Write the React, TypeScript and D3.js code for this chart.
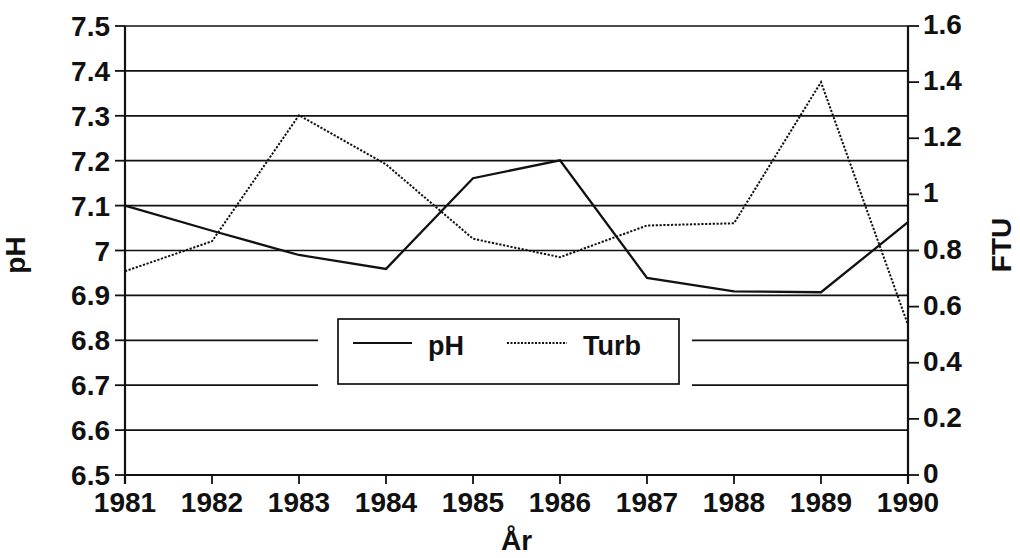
import React from "react";
import * as d3 from "d3";

const years = [1981, 1982, 1983, 1984, 1985, 1986, 1987, 1988, 1989, 1990];
const phValues = [7.1, 7.044, 6.99, 6.959, 7.161, 7.201, 6.939, 6.909, 6.907, 7.063];
const turbValues = [0.726, 0.833, 1.282, 1.107, 0.842, 0.776, 0.889, 0.897, 1.4, 0.535];
const phTicks = [6.5, 6.6, 6.7, 6.8, 6.9, 7, 7.1, 7.2, 7.3, 7.4, 7.5];
const ftuTicks = [0, 0.2, 0.4, 0.6, 0.8, 1, 1.2, 1.4, 1.6];
const legendItems = ["pH", "Turb"];

const W = 1020;
const H = 558;
const left = 125;
const right = 908;
const top = 26;
const bottom = 475;
const FONT = "'Liberation Sans', Arial, sans-serif";

export default function App() {
  const x = d3.scaleLinear().domain([1981, 1990]).range([left, right]);
  const yL = d3.scaleLinear().domain([6.5, 7.5]).range([bottom, top]);
  const yR = d3.scaleLinear().domain([0, 1.6]).range([bottom, top]);

  const phLine = d3
    .line<number>()
    .x((_, i) => x(years[i]))
    .y((d) => yL(d));
  const turbLine = d3
    .line<number>()
    .x((_, i) => x(years[i]))
    .y((d) => yR(d));

  const fmtL = (v: number) => (v === 7 ? "7" : v.toFixed(1));
  const fmtR = (v: number) => (v === 0 ? "0" : v === 1 ? "1" : String(+v.toFixed(1)));

  const ink = "#111";

  return (
    <svg
      width={W}
      height={H}
      style={{ position: "absolute", left: 0, top: 0, background: "#fff" }}
      fontFamily={FONT}
    >
      <rect x={0} y={0} width={W} height={H} fill="#fff" />
      {/* gridlines */}
      {phTicks.map((t) => (
        <line
          key={"g" + t}
          x1={left}
          x2={right}
          y1={yL(t)}
          y2={yL(t)}
          stroke={ink}
          strokeWidth={1.7}
        />
      ))}
      {/* data lines */}
      <path d={turbLine(turbValues) || ""} fill="none" stroke={ink} strokeWidth={2} strokeDasharray="2.2,1.6" />
      <path d={phLine(phValues) || ""} fill="none" stroke={ink} strokeWidth={2.3} />

      {/* legend */}
      <rect x={318} y={310} width={374} height={78} fill="#fff" />
      <rect x={338} y={319} width={341} height={65} fill="#fff" stroke={ink} strokeWidth={1.7} />
      <line x1={353} x2={412} y1={343} y2={343} stroke={ink} strokeWidth={2} />
      <text x={428} y={355} fontSize={27} fontWeight="bold" fill={ink}>
        {legendItems[0]}
      </text>
      <line x1={507} x2={567} y1={343} y2={343} stroke={ink} strokeWidth={1.8} strokeDasharray="2,1.5" />
      <text x={583} y={355} fontSize={27} fontWeight="bold" fill={ink}>
        {legendItems[1]}
      </text>

      {/* axes */}
      <line x1={left} x2={left} y1={top} y2={bottom + 9} stroke={ink} strokeWidth={2.2} />
      <line x1={right} x2={right} y1={top} y2={bottom + 9} stroke={ink} strokeWidth={2.2} />
      <line x1={left} x2={right} y1={bottom} y2={bottom} stroke={ink} strokeWidth={2.2} />

      {/* left ticks */}
      {phTicks.map((t) => (
        <g key={"l" + t}>
          <line x1={left - 10} x2={left} y1={yL(t)} y2={yL(t)} stroke={ink} strokeWidth={1.8} />
          <text
            x={left - 15}
            y={yL(t) + 10}
            textAnchor="end"
            fontSize={28}
            fontWeight="bold"
            fill={ink}
          >
            {fmtL(t)}
          </text>
        </g>
      ))}
      {/* right ticks */}
      {ftuTicks.map((t) => (
        <g key={"r" + t}>
          <line x1={right} x2={right + 11} y1={yR(t)} y2={yR(t)} stroke={ink} strokeWidth={1.8} />
          <text x={right + 15} y={yR(t) + 8} textAnchor="start" fontSize={28} fontWeight="bold" fill={ink}>
            {fmtR(t)}
          </text>
        </g>
      ))}
      {/* bottom ticks */}
      {years.map((yr) => (
        <g key={"b" + yr}>
          <line x1={x(yr)} x2={x(yr)} y1={bottom} y2={bottom + 9} stroke={ink} strokeWidth={1.8} />
          <text x={x(yr)} y={512} textAnchor="middle" fontSize={28} fontWeight="bold" fill={ink}>
            {yr}
          </text>
        </g>
      ))}

      {/* axis titles */}
      <text x={(left + right) / 2} y={550} textAnchor="middle" fontSize={28} fontWeight="bold" fill={ink}>
        År
      </text>
      <text
        transform={`translate(25,255) rotate(-90)`}
        textAnchor="middle"
        fontSize={28}
        fontWeight="bold"
        fill={ink}
      >
        pH
      </text>
      <text
        transform={`translate(1011,245) rotate(-90)`}
        textAnchor="middle"
        fontSize={28}
        fontWeight="bold"
        fill={ink}
      >
        FTU
      </text>
    </svg>
  );
}
